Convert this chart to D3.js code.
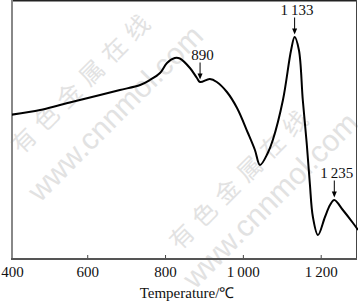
<!DOCTYPE html>
<html>
<head>
<meta charset="utf-8">
<script src="https://cdn.jsdelivr.net/npm/d3@7"></script>
<style>
body{margin:0;background:#fff;}
svg{display:block;}
</style>
</head>
<body>
<div class="Graph"></div>
<script>
// DTA curve, temperature vs signal (arbitrary units)
let temps = [400, 479, 530, 581, 633, 684, 736, 761, 787, 805, 825, 838, 864, 882, 890, 915, 933, 959, 985, 1013, 1031, 1044, 1064, 1077, 1103, 1124, 1133, 1144, 1154, 1164, 1172, 1180, 1193, 1211, 1224, 1235, 1257, 1283, 1296];
let signal = [144, 149, 154, 159, 164, 169, 174, 179, 186, 196, 201, 200.5, 191, 181, 177, 180, 177, 167, 151, 126, 109, 94, 106, 119, 159, 209, 222, 209, 159, 116, 76, 42, 24, 42, 54, 59, 49, 36, 29];
let xTicks = [400, 600, 800, 1000, 1200];
let tickLabels = ["400", "600", "800", "1\u2009000", "1\u2009200"];
let peakTemps = [890, 1133, 1235];
let peakLabels = ["890", "1\u2009133", "1\u2009235"];
let peakSignal = [177, 222, 59];

const W = 358, H = 303;
const serif = "'Liberation Serif','Times New Roman',serif";

let svg = d3.select(".Graph")
    .append("svg")
    .attr("width", W)
    .attr("height", H);

let x = d3.scaleLinear()//x axis
    .domain([400, 1300])
    .range([9.4, 359.6]);
let y = d3.scaleLinear()//signal
    .domain([0, 259])
    .range([259, 0]);

svg.append("clipPath").attr("id", "plot")
    .append("rect").attr("x", 12).attr("y", 0).attr("width", 346).attr("height", 259);

// watermark (faint)
let wm = svg.append("g").attr("fill", "#e2e2e2");
[[82, 80, 115, 113], [240, 176, 270, 200]].forEach(p => {
    wm.append("text")
        .attr("transform", `translate(${p[0]},${p[1]}) rotate(-45)`)
        .attr("text-anchor", "middle")
        .attr("dominant-baseline", "central")
        .style("font-family", "'Noto Sans CJK SC',sans-serif")
        .style("font-size", "24px")
        .style("letter-spacing", "8px")
        .text("有色金属在线");
    wm.append("text")
        .attr("transform", `translate(${p[2]},${p[3]}) rotate(-45)`)
        .attr("text-anchor", "middle")
        .attr("dominant-baseline", "central")
        .style("font-family", "'Liberation Sans',Arial,sans-serif")
        .style("font-size", "30px")
        .text("www.cnnmol.com");
});

// frame
svg.append("line").attr("x1", 12).attr("x2", 356).attr("y1", 0.8).attr("y2", 0.8)
    .attr("stroke", "#222").attr("stroke-width", 1.6);
svg.append("line").attr("x1", 356.5).attr("x2", 356.5).attr("y1", 0).attr("y2", 259)
    .attr("stroke", "#444").attr("stroke-width", 1);
svg.append("line").attr("x1", 12).attr("x2", 12).attr("y1", 0).attr("y2", 260)
    .attr("stroke", "#888").attr("stroke-width", 2);

// bottom axis, ticks pointing inward
let gx = svg.append("g")
    .attr("transform", "translate(0,259)")
    .call(d3.axisBottom(x).tickValues(xTicks).tickSize(-4).tickFormat((d, i) => tickLabels[i]));
gx.select(".domain").remove();
gx.append("line").attr("x1", 11).attr("x2", 357).attr("stroke", "#555").attr("stroke-width", 1.8);
gx.selectAll(".tick line").attr("stroke", "#444");
gx.selectAll(".tick").filter(d => d == 400).select("line").remove();
gx.selectAll(".tick text")
    .attr("y", 7)
    .attr("fill", "#111")
    .style("font-family", serif)
    .style("font-size", "15px");
gx.selectAll(".tick").filter(d => d == 400).select("text").attr("x", 2.5);

svg.append("text")
    .attr("x", 187)
    .attr("y", 298)
    .attr("text-anchor", "middle")
    .attr("fill", "#111")
    .style("font-family", serif)
    .style("font-size", "15px")
    .text("Temperature/\u2103");

// curve
let pts = temps.map((t, i) => [t, signal[i]]);
let line = d3.line()
    .x(d => x(d[0]))
    .y(d => y(d[1]))
    .curve(d3.curveCatmullRom.alpha(0.5));
svg.append("path")
    .datum(pts)
    .attr("clip-path", "url(#plot)")
    .attr("fill", "none")
    .attr("stroke", "#000")
    .attr("stroke-width", 2)
    .attr("d", line);

// peak annotations
let ann = svg.append("g");
peakTemps.forEach((t, i) => {
    let px = x(t);
    let tip = y(peakSignal[i]) - 2.5;
    ann.append("line")
        .attr("x1", px).attr("x2", px)
        .attr("y1", tip - 17).attr("y2", tip - 4)
        .attr("stroke", "#000").attr("stroke-width", 1);
    ann.append("path")
        .attr("d", `M${px - 2.5},${tip - 6}L${px + 2.5},${tip - 6}L${px},${tip}Z`)
        .attr("fill", "#000");
    ann.append("text")
        .attr("x", px + 2.5)
        .attr("y", tip - 20)
        .attr("text-anchor", "middle")
        .attr("fill", "#111")
        .style("font-family", serif)
        .style("font-size", "15px")
        .text(peakLabels[i]);
});
</script>
</body>
</html>
